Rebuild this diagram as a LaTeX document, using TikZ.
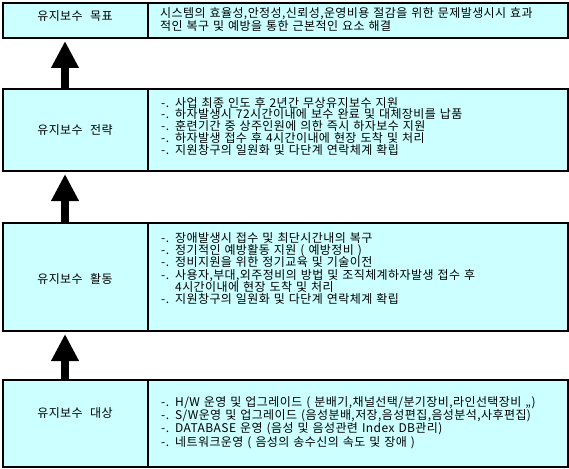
\documentclass[tikz,border=0pt]{standalone}
\usepackage{fontspec}
\setmainfont[Scale=1.2, WordSpace=2.4, LetterSpace=3.5]{Noto Sans CJK KR}
\usetikzlibrary{arrows.meta}
\definecolor{cellbg}{HTML}{CCFFFF}
\tikzset{
  cell/.style={draw=black, line width=2pt, fill=cellbg, inner sep=0pt, anchor=north west},
  body/.style={anchor=west, align=left, text width=405pt, inner sep=0pt, font=\fontsize{10}{11.8}\selectfont},
  title/.style={inner sep=0pt, font=\fontsize{10}{11.8}\selectfont},
  uparrow/.style={line width=8.3pt, -{Triangle[width=26pt,length=27pt]}, shorten >=2pt}
}
\begin{document}
\begin{tikzpicture}[x=1pt,y=-1pt]
\useasboundingbox (0,0) rectangle (569,468);
% row 1
\node[cell, minimum width=145pt, minimum height=35pt] (l1) at (2,2) {};
\node[cell, minimum width=420pt, minimum height=35pt] (r1) at (147,2) {};
% row 2
\node[cell, minimum width=145pt, minimum height=82pt] (l2) at (2,88) {};
\node[cell, minimum width=420pt, minimum height=82pt] (r2) at (147,88) {};
% row 3
\node[cell, minimum width=145pt, minimum height=108pt] (l3) at (2,222) {};
\node[cell, minimum width=420pt, minimum height=108pt] (r3) at (147,222) {};
% row 4
\node[cell, minimum width=145pt, minimum height=87pt] (l4) at (2,379) {};
\node[cell, minimum width=420pt, minimum height=87pt] (r4) at (147,379) {};

% labels
\node[title] (a1) at (75,16) {유지보수 목표};
\node[title] (a2) at (75,130) {유지보수 전략};
\node[title] (a3) at (75,279) {유지보수 활동};
\node[title] (a4) at (75,413) {유지보수 대상};

% texts
\node[body, font=\fontsize{10}{11.3}\selectfont] (b1) at (160,19.7) {\fontsize{10}{11.3}\selectfont 시스템의 효율성,안정성,신뢰성,운영비용 절감을 위한 문제발생시시 효과\\적인 복구 및 예방을 통한 근본적인 요소 해결};
\node[body] (b2) at (161,126.2) {\fontsize{10}{11.8}\selectfont -. 사업 최종 인도 후 2년간 무상유지보수 지원\\
-. 하자발생시 72시간이내에 보수 완료 및 대체장비를 납품\\
-. 훈련기간 중 상주인원에 의한 즉시 하자보수 지원\\
-. 하자발생 접수 후 4시간이내에 현장 도착 및 처리\\
-. 지원창구의 일원화 및 다단계 연락체계 확립};
\node[body, font=\fontsize{10}{12.3}\selectfont] (b3) at (161,268.4) {\fontsize{10}{12.3}\selectfont -. 장애발생시 접수 및 최단시간내의 복구\\
-. 정기적인 예방활동 지원 ( 예방정비 )\\
-. 정비지원을 위한 정기교육 및 기술이전\\
-. 사용자,부대,외주정비의 방법 및 조직체계하자발생 접수 후\\
\hspace*{14pt}4시간이내에 현장 도착 및 처리\\
-. 지원창구의 일원화 및 다단계 연락체계 확립};
\node[body] (b4) at (161,422.5) {\fontsize{10}{11.8}\selectfont -. H/W 운영 및 업그레이드 ( 분배기,채널선택/분기장비,라인선택장비 ,,)\\
-. S/W운영 및 업그레이드 (음성분배,저장,음성편집,음성분석,사후편집)\\
-. DATABASE 운영 (음성 및 음성관련 Index DB관리)\\
-. 네트워크운영 ( 음성의 송수신의 속도 및 장애 )};

% arrows
\draw[uparrow] ([xshift=-10.5pt]l2.north) -- ([xshift=-10.5pt]l1.south);
\draw[uparrow] ([xshift=-10.5pt]l3.north) -- ([xshift=-10.5pt]l2.south);
\draw[uparrow] ([xshift=-10.5pt]l4.north) -- ([xshift=-10.5pt]l3.south);
\end{tikzpicture}
\end{document}
